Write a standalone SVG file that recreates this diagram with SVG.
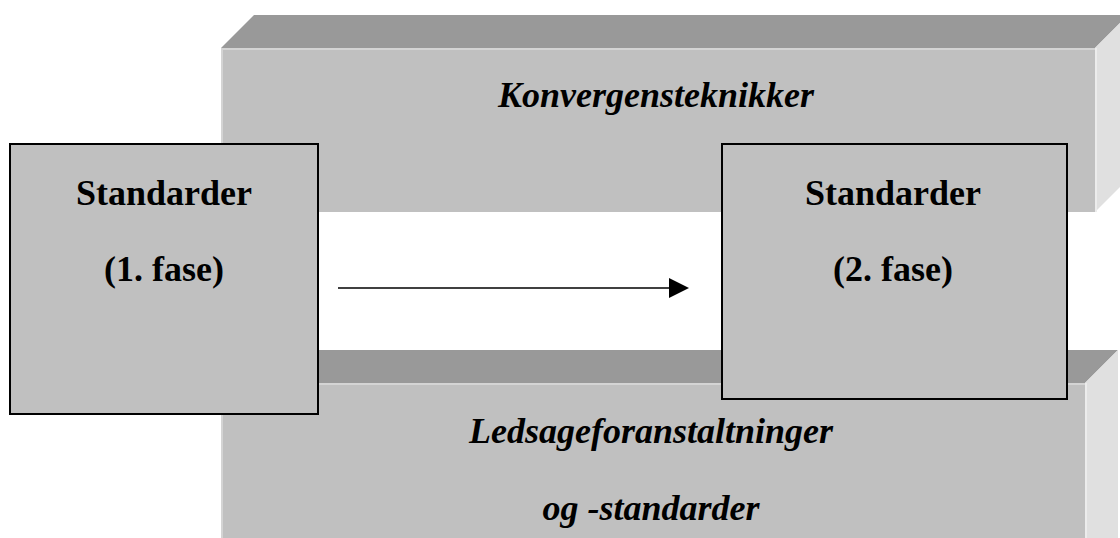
<svg xmlns="http://www.w3.org/2000/svg" width="1120" height="538" viewBox="0 0 1120 538">
<style>
.top{fill:#999999}
.front{fill:#c0c0c0}
.side{fill:#e0e0e0}
.edge{stroke:#d4d4d4;stroke-width:2;fill:none}
.node{fill:#c0c0c0;stroke:#000;stroke-width:2}
.lbl{font-family:"Liberation Serif","Times New Roman",serif;font-weight:bold;font-size:36px;fill:#000;text-anchor:middle}
.it{font-style:italic}
.conn{stroke:#000;stroke-width:1.6;fill:none}
</style>
<rect width="1120" height="538" fill="#fff"/>
<g id="konvergens">
<polygon class="top" points="221,48 254,15 1128,15 1095,48"/>
<rect class="front" x="221" y="48" width="874" height="164"/>
<polygon class="side" points="1095,48 1128,15 1128,179 1095,212"/>
<path class="edge" d="M222,212 V49 H1095"/>
<line x1="1096" y1="48" x2="1096" y2="212" stroke="#ececec" stroke-width="2"/>
<text class="lbl it" x="656" y="107">Konvergensteknikker</text>
</g>
<g id="ledsage">
<polygon class="top" points="221,383 254,350 1118,350 1085,383"/>
<rect class="front" x="221" y="383" width="864" height="160"/>
<polygon class="side" points="1085,383 1118,350 1118,540 1085,540"/>
<path class="edge" d="M222,540 V384 H1085"/>
<line x1="1086" y1="383" x2="1086" y2="540" stroke="#ececec" stroke-width="2"/>
<text class="lbl it" x="651" y="443">Ledsageforanstaltninger</text>
<text class="lbl it" x="651" y="520">og -standarder</text>
</g>
<g id="fase1">
<rect class="node" x="10" y="144" width="308" height="270"/>
<text class="lbl" x="164" y="205">Standarder</text>
<text class="lbl" x="164" y="281">(1. fase)</text>
</g>
<g id="fase2">
<rect class="node" x="722" y="144" width="345" height="255"/>
<text class="lbl" x="893" y="205">Standarder</text>
<text class="lbl" x="893" y="281">(2. fase)</text>
</g>
<g id="connectors">
<line class="conn" x1="338" y1="288" x2="670" y2="288"/>
<polygon points="669,278 689,288 669,298" fill="#000"/>
</g>
</svg>
